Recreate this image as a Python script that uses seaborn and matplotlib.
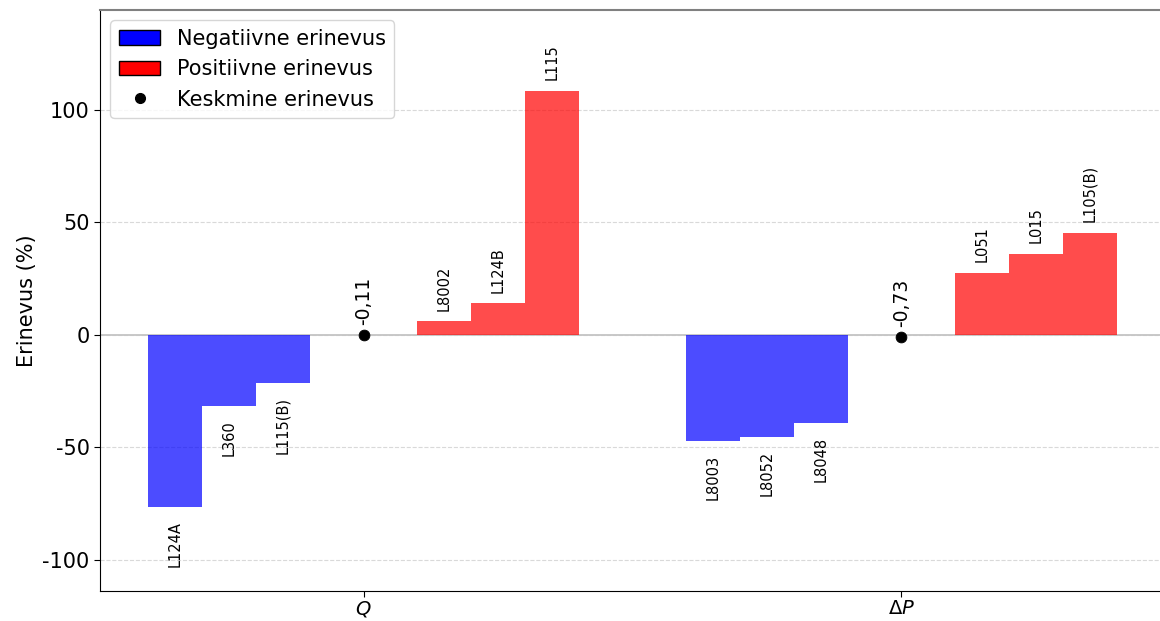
import numpy as np
import pandas as pd
import matplotlib
matplotlib.use("Agg")
import matplotlib.pyplot as plt
from matplotlib.patches import Patch
from matplotlib.lines import Line2D
import seaborn as sns

# ---- data -------------------------------------------------------------
groups = ["$Q$", r"$\Delta P$"]

neg_labels = [["L124A", "L360", "L115(B)"], ["L8003", "L8052", "L8048"]]
neg_values = [[-76.4, -31.6, -21.3], [-47.0, -45.2, -39.0]]

pos_labels = [["L8002", "L124B", "L115"], ["L051", "L015", "L105(B)"]]
pos_values = [[6.0, 14.0, 108.6], [27.4, 35.9, 45.5]]

mean_values = [-0.11, -0.73]

yticks = [-100, -50, 0, 50, 100]

# ---- layout helpers ---------------------------------------------------
bar_w = 0.1
neg_slots = [-3.5, -2.5, -1.5]
pos_slots = [1.5, 2.5, 3.5]

rows = []
for g in range(len(groups)):
    for slot, lab, val in zip(neg_slots, neg_labels[g], neg_values[g]):
        rows.append(dict(pos=round(g + slot * bar_w, 3), value=val, label=lab, sign="neg"))
    for slot, lab, val in zip(pos_slots, pos_labels[g], pos_values[g]):
        rows.append(dict(pos=round(g + slot * bar_w, 3), value=val, label=lab, sign="pos"))
bars = pd.DataFrame(rows)
means = pd.DataFrame(dict(pos=np.arange(len(groups)), value=mean_values))

# ---- style ------------------------------------------------------------
sns.set_style("ticks")
plt.rcParams["font.family"] = ["DejaVu Sans"]
plt.rcParams["axes.unicode_minus"] = False
plt.rcParams["mathtext.fontset"] = "dejavusans"
plt.rcParams["text.color"] = "black"
plt.rcParams["axes.labelcolor"] = "black"

fig = plt.figure(figsize=(11.6, 6.21), dpi=100)
ax = fig.add_axes([100 / 1160, 30 / 621, 1065 / 1160, 581 / 621])

ax.yaxis.grid(True, linestyle="--", color="#d9d9d9", linewidth=0.8)
ax.set_axisbelow(True)
ax.axhline(0, color="#c4c4c4", linewidth=1.3, zorder=1)

sns.barplot(
    data=bars, x="pos", y="value", hue="sign",
    palette={"neg": "blue", "pos": "red"},
    native_scale=True, dodge=False, width=1.0, alpha=0.7,
    saturation=1, errorbar=None, linewidth=0, legend=False, ax=ax,
)

sns.scatterplot(data=means, x="pos", y="value", color="black", s=60,
                edgecolor="black", zorder=5, legend=False, ax=ax)

# bar name labels
for _, r in bars.iterrows():
    if r["value"] < 0:
        ax.text(r["pos"], r["value"] - 6.3, r["label"], rotation=90,
                ha="center", va="top", fontsize=10.5)
    else:
        ax.text(r["pos"], r["value"] + 4.8, r["label"], rotation=90,
                ha="center", va="bottom", fontsize=10.5)

# mean value labels
for _, r in means.iterrows():
    txt = f"{r['value']:.2f}".replace(".", ",")
    ax.text(r["pos"], r["value"] + 4.3, txt, rotation=90,
            ha="center", va="bottom", fontsize=13.5)

ax.set_xlim(-0.49, 1.49)
ax.set_ylim(-113.8, 144.4)
ax.set_xticks(means["pos"])
ax.set_xticklabels(groups, fontsize=14)
ax.set_yticks(yticks)
ax.set_yticklabels([str(t) for t in yticks], fontsize=15)
ax.set_xlabel("")
ax.set_ylabel("Erinevus (%)", fontsize=15)

ax.spines["top"].set_color("#808080")
ax.spines["top"].set_linewidth(1.5)
ax.spines["right"].set_visible(False)
ax.spines["left"].set_color("black")
ax.spines["bottom"].set_color("black")
ax.tick_params(axis="both", colors="black", length=4)
ax.tick_params(axis="x", pad=2)

handles = [
    Patch(facecolor="blue", edgecolor="black", label="Negatiivne erinevus"),
    Patch(facecolor="red", edgecolor="black", label="Positiivne erinevus"),
    Line2D([], [], marker="o", color="black", linestyle="none",
           markersize=7, label="Keskmine erinevus"),
]
ax.legend(handles=handles, loc="upper left", fontsize=15, frameon=True)

fig.savefig("out.png", dpi=100)
